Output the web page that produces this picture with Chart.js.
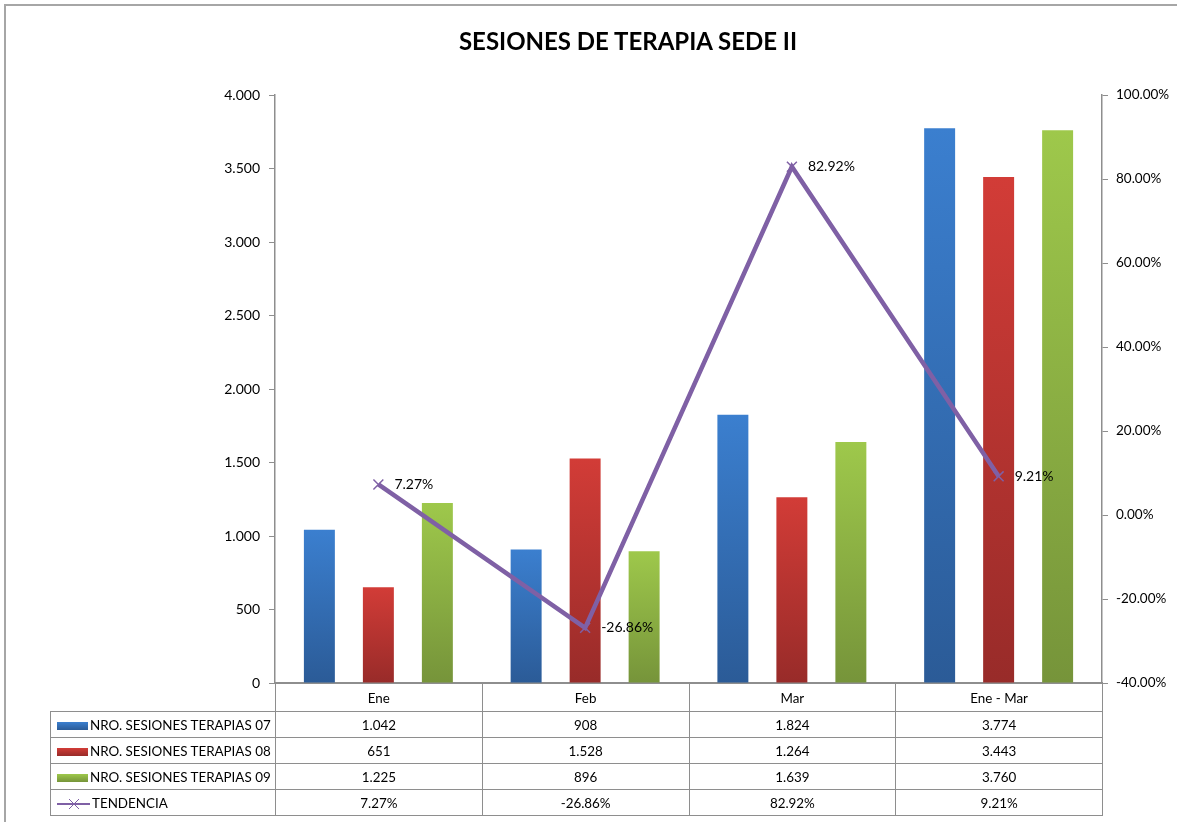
<!DOCTYPE html>
<html>
<head>
<meta charset="utf-8">
<script src="https://cdn.jsdelivr.net/npm/chart.js@4"></script>
<style>
    html, body { margin: 0; background: #fff; overflow: hidden; font-family: Lato, 'Noto Sans', sans-serif; }
    #wrap { position: relative; width: 1177px; height: 822px; overflow: hidden; }
    #chart { display: block; }
    #frameTop { position: absolute; left: 4px; top: 4px; width: 1173px; height: 2px; background: #a6a6a6; }
    #frameLeft { position: absolute; left: 4px; top: 4px; width: 2px; height: 818px; background: #a6a6a6; }
    #title { position: absolute; top: 26px; left: 628px; transform: translateX(-50%); font-size: 24px; font-weight: bold; color: #000; white-space: nowrap; }
    #tbl { position: absolute; border-collapse: collapse; table-layout: fixed; font-size: 13.4px; color: #000; }
    #tbl td { border: 1.5px solid #8e8e8e; text-align: center; padding: 0; white-space: nowrap; }
    #tbl td.blank { border: none; border-right: 1.5px solid #8e8e8e; }
    #tbl td.key { text-align: left; padding-left: 6px; }
    .sw { display: inline-block; width: 31px; height: 8px; vertical-align: middle; margin-right: 2px; }
</style>
</head>
<body>
<div id="wrap">
    <canvas id="chart" width="1177" height="822"></canvas>
    <div id="frameTop"></div>
    <div id="frameLeft"></div>
    <div id="title">SESIONES DE TERAPIA SEDE II</div>
    <table id="tbl"></table>
</div>
<script>
const categories = ['Ene', 'Feb', 'Mar', 'Ene - Mar'];
const sesiones07 = [1042, 908, 1824, 3774];
const sesiones08 = [651, 1528, 1264, 3443];
const sesiones09 = [1225, 896, 1639, 3760];
const tendencia = [7.27, -26.86, 82.92, 9.21];

const seriesNames = ['NRO. SESIONES  TERAPIAS 07', 'NRO. SESIONES  TERAPIAS 08', 'NRO. SESIONES  TERAPIAS 09', 'TENDENCIA'];
// light top, dark bottom like the excel bars
const barColors = [['#3b7fcf', '#2b5b97'], ['#d23c37', '#982b29'], ['#9ec84b', '#76943a']];
const lineColor = '#7f60a5';

const thousands = n => String(n).replace(/\B(?=(\d{3})+(?!\d))/g, '.');
const pct = v => v.toFixed(2) + '%';

function barGradient(idx) {
    return ctx => {
        const chart = ctx.chart;
        const area = chart.chartArea;
        if (!area || ctx.raw === undefined) return barColors[idx][0];
        const top = chart.scales.y.getPixelForValue(ctx.raw);
        const g = chart.ctx.createLinearGradient(0, top, 0, area.bottom);
        g.addColorStop(0, barColors[idx][0]);
        g.addColorStop(1, barColors[idx][1]);
        return g;
    };
}

const pointLabels = {
    id: 'pointLabels',
    afterDatasetsDraw(chart) {
        const meta = chart.getDatasetMeta(3);
        const c = chart.ctx;
        c.save();
        c.font = '14px Lato, "Noto Sans", sans-serif';
        c.fillStyle = '#000';
        c.textBaseline = 'middle';
        meta.data.forEach((pt, i) => c.fillText(pct(tendencia[i]), pt.x + 16, pt.y));
        c.restore();
    }
};

const tableSync = {
    id: 'tableSync',
    afterRender(chart) {
        const area = chart.chartArea;
        const tbl = document.getElementById('tbl');
        const keyW = area.left - 50;
        const colW = (area.right - area.left) / categories.length;
        tbl.style.left = (area.left - keyW) + 'px';
        tbl.style.top = area.bottom + 'px';
        tbl.style.width = (keyW + colW * categories.length) + 'px';
        let html = '<colgroup><col style="width:' + keyW + 'px">' + categories.map(() => '<col style="width:' + colW + 'px">').join('') + '</colgroup>';
        html += '<tr style="height:28px"><td class="blank"></td>' + categories.map(c => '<td>' + c + '</td>').join('') + '</tr>';
        const rows = [sesiones07, sesiones08, sesiones09];
        rows.forEach((r, i) => {
            const sw = '<span class="sw" style="background:linear-gradient(' + barColors[i][0] + ',' + barColors[i][1] + ')"></span>';
            html += '<tr style="height:26px"><td class="key">' + sw + seriesNames[i] + '</td>' + r.map(v => '<td>' + thousands(v) + '</td>').join('') + '</tr>';
        });
        const lineKey = '<svg width="33" height="12" style="vertical-align:middle;margin-right:2px"><line x1="0" y1="6" x2="33" y2="6" stroke="' + lineColor + '" stroke-width="2"/><line x1="12" y1="1" x2="22" y2="11" stroke="' + lineColor + '" stroke-width="1"/><line x1="22" y1="1" x2="12" y2="11" stroke="' + lineColor + '" stroke-width="1"/></svg>';
        html += '<tr style="height:26px"><td class="key">' + lineKey + seriesNames[3] + '</td>' + tendencia.map(v => '<td>' + pct(v) + '</td>').join('') + '</tr>';
        if (tbl.innerHTML !== html) tbl.innerHTML = html;
    }
};

const tickFontLeft = { size: 14, family: 'Lato, "Noto Sans", sans-serif' };
const tickFontRight = { size: 13.5, family: 'Lato, "Noto Sans", sans-serif' };

new Chart(document.getElementById('chart'), {
    data: {
        labels: categories,
        datasets: [
            { type: 'bar', label: seriesNames[0], data: sesiones07, backgroundColor: barGradient(0), yAxisID: 'y', order: 1 },
            { type: 'bar', label: seriesNames[1], data: sesiones08, backgroundColor: barGradient(1), yAxisID: 'y', order: 1 },
            { type: 'bar', label: seriesNames[2], data: sesiones09, backgroundColor: barGradient(2), yAxisID: 'y', order: 1 },
            { type: 'line', label: seriesNames[3], data: tendencia, yAxisID: 'y1', order: 0,
              borderColor: lineColor, borderWidth: 4.5, tension: 0,
              pointStyle: 'crossRot', pointRadius: 7, pointBorderWidth: 1.5, pointBorderColor: lineColor }
        ]
    },
    options: {
        responsive: false,
        animation: false,
        categoryPercentage: 0.856,
        barPercentage: 0.525,
        layout: { padding: { top: 95, bottom: 139, left: 0, right: 0 } },
        plugins: { legend: { display: false }, tooltip: { enabled: false } },
        scales: {
            x: {
                ticks: { display: false },
                grid: { display: false },
                border: { display: true, color: '#8e8e8e', width: 2 },
                afterFit(s) { s.height = 0; }
            },
            y: {
                position: 'left', min: 0, max: 4000,
                ticks: { stepSize: 500, callback: v => thousands(v), color: '#000', font: tickFontLeft, padding: 9 },
                grid: { drawOnChartArea: false, drawTicks: true, tickLength: 6, color: '#8e8e8e' },
                border: { color: '#8e8e8e', width: 1.5 },
                afterFit(s) { s.width = 275; }
            },
            y1: {
                position: 'right', min: -40, max: 100,
                ticks: { stepSize: 20, callback: v => pct(v), color: '#000', font: tickFontRight, padding: 8 },
                grid: { drawOnChartArea: false, drawTicks: true, tickLength: 6, color: '#8e8e8e' },
                border: { color: '#8e8e8e', width: 1.5 },
                afterFit(s) { s.width = 75; }
            }
        }
    },
    plugins: [pointLabels, tableSync]
});
</script>
</body>
</html>
